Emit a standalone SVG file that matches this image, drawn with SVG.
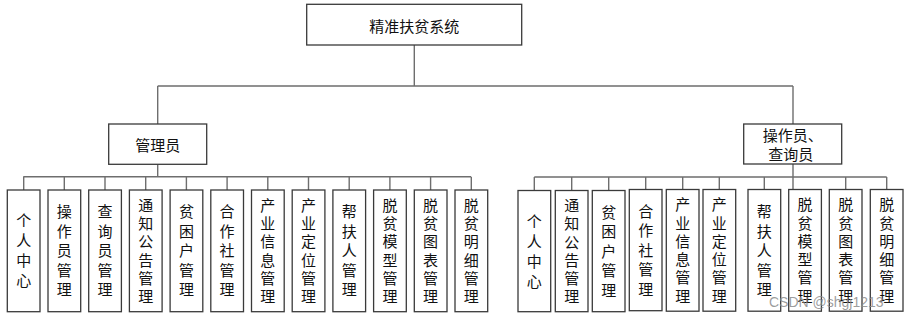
<svg xmlns="http://www.w3.org/2000/svg" width="907" height="319" viewBox="0 0 907 319">
<style>
.bg{fill:#ffffff}
.box{fill:#ffffff;stroke:#3a3a3a;stroke-width:1.3}
.ln{fill:none;stroke:#6e6e6e;stroke-width:1.4}
.t{font-family:"Noto Sans CJK SC","Noto Sans",sans-serif;font-size:15px;fill:#111;text-anchor:middle;dominant-baseline:central}
.v{font-family:"Noto Sans CJK SC","Noto Sans",sans-serif;font-size:15px;fill:#111;text-anchor:middle;dominant-baseline:central;writing-mode:vertical-rl;text-orientation:upright}
.c4{letter-spacing:5px}
.c5{letter-spacing:4.5px}
.c6{letter-spacing:3.3px}
.wm{font-family:"Liberation Sans",Arial,sans-serif;font-size:14px;fill:#8c8c8c;fill-opacity:0.85}
</style>
<rect class="bg" x="0" y="0" width="907" height="319"/>
<g id="connectors">
<path class="ln" d="M414.3 45V86M157.7 86H793M157.7 86V124M793 86V124"/>
<path class="ln" d="M157.7 164.3V176.7M23.3 176.7H471M23.7 176.7V190M64.3 176.7V190M105 176.7V190M145.7 176.7V190M186.4 176.7V190M227.1 176.7V190M267.8 176.7V190M308.5 176.7V190M349.2 176.7V190M389.9 176.7V190M430.6 176.7V190M471.3 176.7V190"/>
<path class="ln" d="M793 164V190M534.3 177H886.7M534.3 177V190M571.7 177V190M608.7 177V190M645.7 177V190M682.7 177V190M719.3 177V190M764.3 177V190M845.7 177V190M886.7 177V190"/>
</g>
<g id="root">
<rect class="box" x="306.7" y="4.3" width="215" height="40.7"/>
<text class="t" x="414.3" y="25">精准扶贫系统</text>
</g>
<g id="admin">
<rect class="box" x="108.7" y="124" width="98" height="40.3"/>
<text class="t" x="157.7" y="144.3">管理员</text>
</g>
<g id="operator">
<rect class="box" x="743.7" y="124" width="98" height="40"/>
<text class="t" x="792.7" y="134.5">操作员、</text>
<text class="t" x="790.7" y="153.5">查询员</text>
</g>
<g id="a1"><rect class="box" x="7.3" y="190" width="32.7" height="121.7"/><text class="v c4" x="23.7" y="253.3">个人中心</text></g>
<g id="a2"><rect class="box" x="48" y="190" width="32.7" height="121.7"/><text class="v c5" x="64.3" y="253">操作员管理</text></g>
<g id="a3"><rect class="box" x="88.7" y="190" width="32.7" height="121.7"/><text class="v c5" x="105" y="253">查询员管理</text></g>
<g id="a4"><rect class="box" x="129.4" y="190" width="32.7" height="121.7"/><text class="v c6" x="145.7" y="252.4">通知公告管理</text></g>
<g id="a5"><rect class="box" x="170.1" y="190" width="32.7" height="121.7"/><text class="v c5" x="186.4" y="253">贫困户管理</text></g>
<g id="a6"><rect class="box" x="210.8" y="190" width="32.7" height="121.7"/><text class="v c5" x="227.1" y="253">合作社管理</text></g>
<g id="a7"><rect class="box" x="251.5" y="190" width="32.7" height="121.7"/><text class="v c6" x="267.8" y="252.4">产业信息管理</text></g>
<g id="a8"><rect class="box" x="292.2" y="190" width="32.7" height="121.7"/><text class="v c6" x="308.5" y="252.4">产业定位管理</text></g>
<g id="a9"><rect class="box" x="332.9" y="190" width="32.7" height="121.7"/><text class="v c5" x="349.2" y="253">帮扶人管理</text></g>
<g id="a10"><rect class="box" x="373.6" y="190" width="32.7" height="121.7"/><text class="v c6" x="389.9" y="252.4">脱贫模型管理</text></g>
<g id="a11"><rect class="box" x="414.3" y="190" width="32.7" height="121.7"/><text class="v c6" x="430.6" y="252.4">脱贫图表管理</text></g>
<g id="a12"><rect class="box" x="455" y="190" width="32.7" height="121.7"/><text class="v c6" x="471.3" y="252.4">脱贫明细管理</text></g>
<g id="b1"><rect class="box" x="518" y="190.5" width="32.7" height="121.2"/><text class="v c4" x="534.3" y="253.5">个人中心</text></g>
<g id="b2"><rect class="box" x="555.3" y="190.5" width="32.7" height="121.2"/><text class="v c6" x="571.7" y="252.7">通知公告管理</text></g>
<g id="b3"><rect class="box" x="592.3" y="190.5" width="32.7" height="121.2"/><text class="v c5" x="608.7" y="253.3">贫困户管理</text></g>
<g id="b4"><rect class="box" x="629.3" y="189.5" width="32.7" height="121.2"/><text class="v c5" x="645.7" y="252.3">合作社管理</text></g>
<g id="b5"><rect class="box" x="666.3" y="189.5" width="32.7" height="121.7"/><text class="v c6" x="682.7" y="252">产业信息管理</text></g>
<g id="b6"><rect class="box" x="703" y="189.5" width="32.7" height="121.7"/><text class="v c6" x="719.3" y="252">产业定位管理</text></g>
<g id="b7"><rect class="box" x="748" y="189.5" width="32.7" height="121.7"/><text class="v c5" x="764.3" y="252.6">帮扶人管理</text></g>
<g id="b8"><rect class="box" x="788.7" y="189.5" width="32.7" height="121.7"/><text class="v c6" x="805" y="252">脱贫模型管理</text></g>
<g id="b9"><rect class="box" x="829.3" y="189.5" width="32.7" height="121.7"/><text class="v c6" x="845.7" y="252">脱贫图表管理</text></g>
<g id="b10"><rect class="box" x="870.3" y="189.5" width="32.7" height="121.7"/><text class="v c6" x="886.7" y="252">脱贫明细管理</text></g>
<text class="wm" x="769" y="307">CSDN @shgj1213</text>
</svg>
